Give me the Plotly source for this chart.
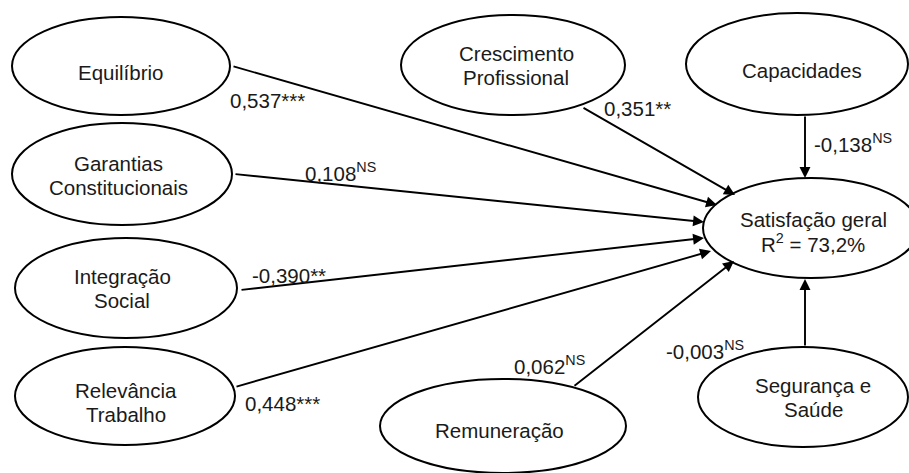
import plotly.graph_objects as go

# ---- data ----
constructs = ["Equilíbrio", "Garantias<br>Constitucionais", "Integração<br>Social",
              "Relevância<br>Trabalho", "Crescimento<br>Profissional", "Capacidades",
              "Remuneração", "Segurança e<br>Saúde"]
coefficients = ["0,537", "0,108", "-0,390", "0,448", "0,351", "-0,138", "0,062", "-0,003"]
significance = ["***", "NS", "**", "***", "**", "NS", "NS", "NS"]
target_name = "Satisfação geral"
r_squared = "73,2%"

# ---- layout (pixel geometry) ----
W, H = 909, 473
FONT = "Liberation Sans, Arial, sans-serif"
FS = 20.5
LINE = 24
TXT = "#1a1a1a"
# ellipse centres / radii
ell = [
    (121, 66, 109, 49),
    (122, 174, 110, 51),
    (126, 288, 111, 50),
    (125, 396, 110, 49),
    (513, 65, 112, 50),
    (797, 64, 111, 51),
    (503, 426, 123, 47),
    (803, 397, 105, 50),
]
target_ell = (811, 228, 108, 50)
# text block centres inside the ellipses
text_pos = [
    (120, 72), (118, 175), (122, 288), (126, 402),
    (516, 65), (802, 70), (499, 430), (813, 397),
]
target_text = (813, 231)
# arrow start / end points
arrows = [
    ((232, 66), (717, 205)),
    ((234, 174), (704, 222)),
    ((240, 290), (704, 238)),
    ((235, 387), (711, 251)),
    ((582, 107), (735, 195)),
    ((805, 115), (805, 178)),
    ((573, 387), (734, 261)),
    ((805, 347), (805, 279)),
]
# label anchor (left x, center y)
label_pos = [
    (228, 100), (303, 172), (250, 275), (243, 403),
    (602, 108), (812, 143), (512, 365), (664, 350),
]

fig = go.Figure()
fig.add_trace(go.Scatter(x=[0, W], y=[0, H], mode="markers",
                         marker=dict(opacity=0), hoverinfo="skip", showlegend=False))

shapes = []
annotations = []

def add_ellipse(cx, cy, rx, ry):
    shapes.append(dict(type="circle", xref="x", yref="y",
                       x0=cx - rx, x1=cx + rx, y0=cy - ry, y1=cy + ry,
                       line=dict(color="black", width=2), fillcolor="white", layer="below"))

def add_text_block(text, cx, cy):
    lines = text.split("<br>")
    n = len(lines)
    for i, ln in enumerate(lines):
        y = cy + (i - (n - 1) / 2) * LINE
        annotations.append(dict(x=cx, y=y, xref="x", yref="y", text=ln, showarrow=False,
                                xanchor="center", yanchor="middle",
                                font=dict(family=FONT, size=FS, color=TXT)))

for (cx, cy, rx, ry) in ell:
    add_ellipse(cx, cy, rx, ry)
add_ellipse(*target_ell)

for name, (tx, ty) in zip(constructs, text_pos):
    add_text_block(name, tx, ty)
add_text_block(f"{target_name}<br>R<sup>2</sup> = {r_squared}", *target_text)

# arrows
for ((x0, y0), (x1, y1)) in arrows:
    annotations.append(dict(x=x1, y=y1, ax=x0, ay=y0, xref="x", yref="y",
                            axref="x", ayref="y", text="", showarrow=True,
                            arrowhead=2, arrowsize=1.15, arrowwidth=1.9,
                            arrowcolor="black", standoff=0, startstandoff=0))

for (lx, ly), c, s in zip(label_pos, coefficients, significance):
    txt = c + (f"<sup>{s}</sup>" if s == "NS" else s)
    annotations.append(dict(x=lx, y=ly, xref="x", yref="y", text=txt, showarrow=False,
                            xanchor="left", yanchor="middle",
                            font=dict(family=FONT, size=FS, color=TXT)))

fig.update_layout(
    width=W, height=H, margin=dict(l=0, r=0, t=0, b=0),
    plot_bgcolor="white", paper_bgcolor="white",
    xaxis=dict(range=[0, W], visible=False, fixedrange=True),
    yaxis=dict(range=[H, 0], visible=False, fixedrange=True),
    shapes=shapes, annotations=annotations, showlegend=False,
)
fig.write_html("out.html", config={"displayModeBar": False, "staticPlot": True},
               post_script="document.body.style.margin='0';")
